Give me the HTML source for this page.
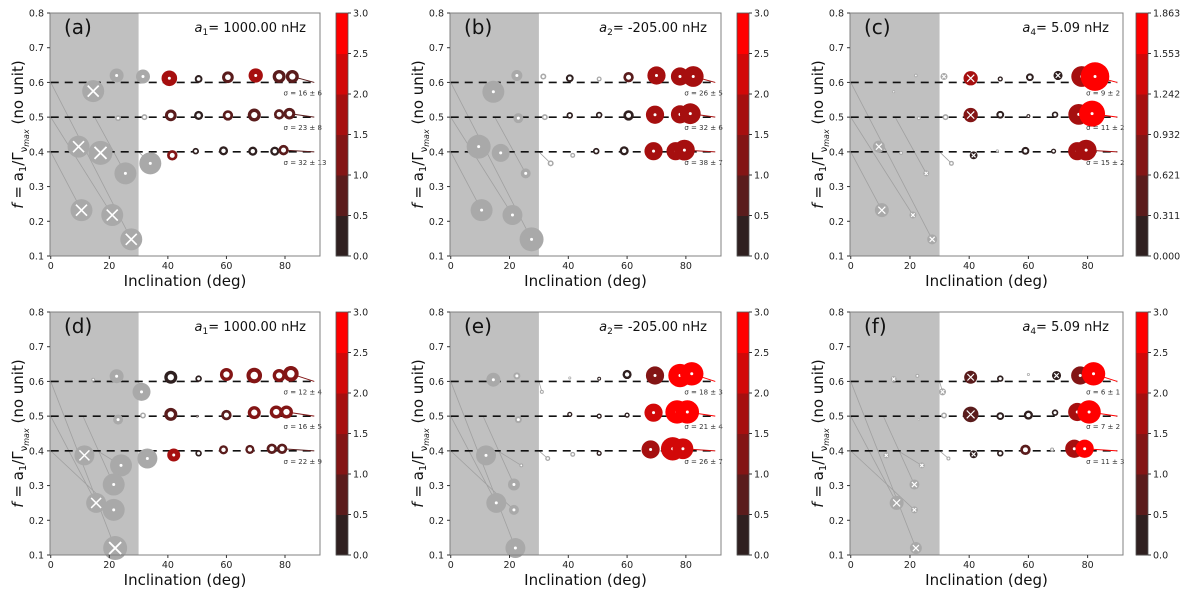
<!DOCTYPE html>
<html><head><meta charset="utf-8"><style>
body{margin:0;background:#fff}
svg{display:block;font-family:"DejaVu Sans","Liberation Sans",sans-serif}
</style></head><body>
<svg id="fig" width="1200" height="597" viewBox="0 0 1200 597" xmlns="http://www.w3.org/2000/svg"></svg>
<script>
// ---- data ----
const panelLabels = ["(a)","(b)","(c)","(d)","(e)","(f)"];
const annotNames = ["a","a","a","a","a","a"];
const annotSubs = ["1","2","4","1","2","4"];
const annotValues = ["= 1000.00 nHz","= -205.00 nHz","= 5.09 nHz","= 1000.00 nHz","= -205.00 nHz","= 5.09 nHz"];
const colorbarMax = [3,3,1.863,3,3,3];
const colorbarTicksStd = ["0.0","0.5","1.0","1.5","2.0","2.5","3.0"];
const colorbarTicksC = ["0.000","0.311","0.621","0.932","1.242","1.553","1.863"];
const xTicks = [0,20,40,60,80];
const yTicks = [0.1,0.2,0.3,0.4,0.5,0.6,0.7,0.8];
const levels = [0.6,0.5,0.4];
const sigmaLabels = [
 ["16 ± 6","23 ± 8","32 ± 13"],["26 ± 5","32 ± 6","38 ± 7"],["9 ± 2","11 ± 2","15 ± 2"],
 ["12 ± 4","16 ± 5","22 ± 9"],["18 ± 3","21 ± 4","26 ± 7"],["6 ± 1","7 ± 2","11 ± 3"]];
// gray points: [inc, f, size, type]  (type: d=dot, x=cross, r=ring)
const grayPts = [
 [[22.5,.62,7,'d'],[31.5,.617,7,'d'],[14.5,.575,11,'x'],[23,.497,3,'d'],[32,.5,3,'r'],[9.5,.415,11,'x'],[17,.397,12,'x'],[25.5,.338,11,'d'],[34,.367,11,'d'],[10.5,.232,11,'x'],[21,.218,11,'x'],[27.5,.148,11,'x']],
 [[22.5,.62,5.5,'d'],[14.5,.573,11,'d'],[23,.497,5,'d'],[9.5,.415,12,'d'],[17,.397,9,'d'],[25.5,.338,5,'d'],[10.5,.232,11,'d'],[21,.218,10,'d'],[27.5,.148,12,'d'],[31.5,.617,3,'r'],[32,.5,3,'r'],[34,.367,3,'r'],[41.5,.39,2.5,'r'],[50.5,.61,2.5,'r']],
 [[22,.62,1.8,'r'],[14.5,.573,1.5,'r'],[31.5,.617,3.5,'x'],[23,.497,2,'r'],[32,.5,3,'r'],[9.5,.415,6,'x'],[17,.397,2,'r'],[25.5,.338,3,'x'],[34,.367,2.5,'r'],[10.5,.232,7,'x'],[21,.218,3.5,'x'],[27.5,.148,5,'x'],[49.5,.403,1.5,'r']],
 [[14.5,.605,2,'d'],[22.5,.615,7,'d'],[31,.57,9,'d'],[23,.49,5,'d'],[31.5,.502,3,'r'],[11.5,.387,10,'x'],[24,.358,11,'d'],[33,.378,10,'d'],[21.5,.303,11,'d'],[15.5,.25,10,'x'],[21.5,.23,11,'d'],[22,.12,12,'x']],
 [[14.5,.605,7,'d'],[22.5,.616,3.5,'d'],[31,.57,2,'r'],[23,.49,3.5,'d'],[12,.387,10,'d'],[24,.358,2,'d'],[33,.378,2.5,'r'],[21.5,.303,6,'d'],[15.5,.25,10,'d'],[21.5,.23,5,'d'],[22,.12,10,'d'],[41.5,.39,2.5,'r'],[40.5,.61,1.5,'r']],
 [[14.5,.607,3,'x'],[22.5,.616,2,'r'],[31,.57,3.5,'x'],[23,.49,1,'d'],[31.5,.502,3,'r'],[12,.387,3,'x'],[24,.358,3,'x'],[33,.378,2,'r'],[21.5,.303,5,'x'],[15.5,.25,7,'x'],[21.5,.23,3.5,'x'],[22,.12,6,'x'],[60,.62,1.5,'r'],[68,.404,2,'r']]
];
// colored points: [inc, f, size, colorValue, type]
const colPts = [
 [[40.5,.612,6,1.7,'d'],[50.5,.61,3,.3,'r'],[60.5,.615,4.5,.8,'r'],[70,.62,5.5,1.5,'d'],[78,.617,5,.7,'r'],[82.5,.617,5,.8,'r'],
  [41,.505,4.5,.5,'r'],[50.5,.505,3.5,.4,'r'],[60.5,.505,4,.7,'r'],[69.5,.506,5,.7,'r'],[78,.508,4,.5,'r'],[81.5,.51,4.5,.9,'r'],
  [41.5,.39,4,1,'r'],[49.5,.402,2.5,.3,'r'],[59,.403,3.5,.3,'r'],[69,.402,3.5,.3,'r'],[76.5,.402,3.5,.4,'r'],[79.5,.405,4,.8,'r']],
 [[40.5,.612,3,.3,'r'],[60.5,.615,4,.5,'r'],[70,.62,7,1.8,'d'],[78,.617,7,1.8,'d'],[82.5,.617,8,1.8,'d'],
  [40.5,.505,2.5,.2,'r'],[50.5,.506,2.5,.4,'r'],[60.5,.505,4,.4,'r'],[69.5,.507,7,1.8,'d'],[78,.508,7,1.8,'d'],[81.5,.51,8,1.8,'d'],
  [49.5,.402,2.5,.3,'r'],[59,.403,3.5,.2,'r'],[69,.402,7,1.8,'d'],[76.5,.402,7,1.8,'d'],[79.5,.405,8,1.8,'d']],
 [[40.5,.612,5.5,1.1,'x'],[50.5,.61,2,.1,'r'],[60.5,.615,3,.2,'r'],[70,.62,3.5,.2,'x'],[78,.617,8,1.2,'d'],[82.5,.617,11,1.86,'d'],
  [40.5,.506,5.5,.9,'x'],[50.5,.507,3,.3,'r'],[60,.503,1.5,.3,'r'],[69,.507,2.5,.3,'r'],[77,.508,8,1.2,'d'],[81.5,.51,10,1.86,'d'],
  [41.5,.39,3,.3,'x'],[59,.403,3,.3,'r'],[68.5,.402,2,.2,'r'],[76.5,.402,7,1.1,'d'],[79.5,.405,8,1.2,'d']],
 [[41,.612,5,.4,'r'],[50.5,.608,2.5,.2,'r'],[60,.62,5,1.4,'r'],[69.5,.617,6,1.3,'r'],[78,.617,5,1.1,'r'],[82,.622,6,1.3,'r'],
  [41,.505,5,.6,'r'],[50,.5,1,.3,'r'],[60,.503,4,.6,'r'],[69.5,.51,5,1.2,'r'],[77,.512,5,1.1,'r'],[80.5,.512,5,1.2,'r'],
  [42,.388,5,1.6,'d'],[50.5,.393,2.5,.2,'r'],[59,.403,3.5,.5,'r'],[68,.404,3.5,.6,'r'],[75.5,.406,4,.8,'r'],[79,.406,4,.6,'r']],
 [[50.5,.608,1.5,.2,'r'],[60,.62,3.5,.2,'r'],[69.5,.617,7,1.3,'d'],[78,.617,9,2.7,'d'],[82,.622,9,2.9,'d'],
  [40.5,.505,2,.3,'r'],[50.5,.5,2,.3,'r'],[60,.503,2,.3,'r'],[69,.51,7,2.2,'d'],[77,.512,9,2.7,'d'],[80.5,.512,9,2.9,'d'],
  [50.5,.393,2,.3,'r'],[68,.404,7,1.6,'d'],[75.5,.406,9,2.2,'d'],[79,.406,8,2.2,'d']],
 [[40.5,.612,5,.8,'x'],[50.5,.608,2.5,.2,'r'],[69.5,.617,3.5,.2,'x'],[77.5,.617,7,1.2,'d'],[82,.622,9,2.9,'d'],
  [40.5,.505,6,.8,'x'],[50.5,.5,3,.3,'r'],[60,.503,3.5,.3,'r'],[69,.51,2.5,.3,'r'],[76.5,.512,7,1.6,'d'],[80.5,.512,9,2.9,'d'],
  [41.5,.39,3,.3,'x'],[50.5,.393,2.5,.3,'r'],[59,.403,4,.6,'r'],[75.5,.406,7,1.9,'d'],[79,.406,7,2.5,'d']]
];
// gray connector lines [x1,y1,x2,y2]
const topLines = [[0,.6,27.5,.148],[0,.5,21,.218],[0,.4,10.5,.232],[15,.5,25.5,.338],[30,.4,34,.367]];
const botLines = [[0,.6,22,.12],[0,.5,15.5,.25],[0,.4,21.5,.23],[11,.5,21.5,.303],[16,.4,24,.358],[30,.4,33,.378],[30,.6,31,.57]];
const cmapColors = ["#2f2020","#5a1c1c","#831515","#a60f0f","#d20808","#ff0000"];

// ---- layout ----
const NS="http://www.w3.org/2000/svg";
const svg=document.getElementById('fig');
function mk(tag,attrs,parent,text){const e=document.createElementNS(NS,tag);for(const k in attrs)e.setAttribute(k,attrs[k]);if(text!==undefined)e.textContent=text;(parent||svg).appendChild(e);return e;}
const axL=[50,450,850], axW=[270,271,273], axT=[13,312], axH=243, cbL=[336,737,1136];
function colorFor(v,vmax){let i=Math.floor(v/vmax*6);if(i>5)i=5;if(i<0)i=0;return cmapColors[i];}

for(let p=0;p<6;p++){
  const col=p%3,row=Math.floor(p/3);
  const L=axL[col],W=axW[col],T=axT[row],B=T+axH;
  const xs=v=>L+(v+0.25)/92.2*W;
  const ys=v=>B-(v-0.1)/0.7*axH;
  const g=mk('g',{},svg);
  
  
  const sh=mk('rect',{x:L,y:T,width:xs(30)-L,height:axH,fill:'#c0c0c0'},g);
  
  (row===0?topLines:botLines).forEach(l=>{mk('line',{x1:xs(l[0]),y1:ys(l[1]),x2:xs(l[2]),y2:ys(l[3]),stroke:'#a0a0a0','stroke-width':0.8},g);});
  levels.forEach(lv=>{const d=mk('line',{x1:xs(0),y1:ys(lv),x2:xs(90),y2:ys(lv),stroke:'#111','stroke-width':1.6,'stroke-dasharray':'8,6'},g);
    });
  levels.forEach(lv=>{const pts=colPts[p].filter(q=>Math.abs(q[1]-lv)<0.05);const q=pts[pts.length-1];
    if(q)mk('line',{x1:xs(q[0]),y1:ys(q[1]),x2:xs(90),y2:ys(lv),stroke:colorFor(q[3],colorbarMax[p]),'stroke-width':1},g);});
  function marker(q,fill,type,name,scale){
    const cx=xs(q[0]),cy=ys(q[1]),r=q[2]*scale;
    const c=mk('circle',{cx:cx,cy:cy,r:r,fill:fill},g);
    
    if(type==='r')mk('circle',{cx:cx,cy:cy,r:r*0.48,fill:'#fff'},g);
    else if(type==='d')mk('circle',{cx:cx,cy:cy,r:Math.min(1.5,r*0.45),fill:'#fff'},g);
    else{const a=r*0.5;mk('path',{d:`M${cx-a},${cy-a}L${cx+a},${cy+a}M${cx-a},${cy+a}L${cx+a},${cy-a}`,stroke:'#fff','stroke-width':Math.max(1.2,r*0.15)},g);}
  }
  grayPts[p].forEach(q=>marker(q,'#a9a9a9',q[3],'excluded-point',1));
  colPts[p].forEach(q=>marker(q,colorFor(q[3],colorbarMax[p]),q[4],'data-point',1.3));
  levels.forEach((lv,i)=>{const t=mk('text',{x:xs(79.5),y:ys(lv)+13,'font-size':7,fill:'#333'},g,'σ = '+sigmaLabels[p][i]);
    });
  mk('rect',{x:L,y:T,width:W,height:axH,fill:'none',stroke:'#808080','stroke-width':1},g);
  xTicks.forEach(v=>{mk('line',{x1:xs(v),y1:B,x2:xs(v),y2:B+3,stroke:'#333'},g);
    const t=mk('text',{x:xs(v),y:B+13,'font-size':9.5,'text-anchor':'middle',fill:'#222'},g,String(v));
    });
  yTicks.forEach(v=>{mk('line',{x1:L-3,y1:ys(v),x2:L,y2:ys(v),stroke:'#333'},g);
    const t=mk('text',{x:L-6,y:ys(v)+3.5,'font-size':9.5,'text-anchor':'end',fill:'#222'},g,v.toFixed(1));
    });
  const xl=mk('text',{x:L+W/2,y:B+30,'font-size':15,'text-anchor':'middle',fill:'#111'},g,'Inclination (deg)');
  
  const yl=mk('text',{x:0,y:0,'font-size':15,'text-anchor':'middle',fill:'#111',transform:`translate(${L-27},${T+axH/2}) rotate(-90)`},g);
  
  yl.innerHTML='<tspan font-style="italic">f</tspan> = a<tspan font-size="10" dy="3">1</tspan><tspan dy="-3">/Γ</tspan><tspan font-size="10" dy="4">ν</tspan><tspan font-size="8" font-style="italic" dy="2">max</tspan><tspan dy="-6"> (no unit)</tspan>';
  const pl=mk('text',{x:L+14,y:T+21,'font-size':20,fill:'#111'},g,panelLabels[p]);
  
  const an=mk('text',{x:L+W-14,y:T+19,'font-size':13,'text-anchor':'end',fill:'#111'},g);
  
  an.innerHTML=`<tspan font-style="italic">${annotNames[p]}</tspan><tspan font-size="9" dy="3">${annotSubs[p]}</tspan><tspan dy="-3">${annotValues[p]}</tspan>`;
  const cb=mk('g',{},svg);
  
  const cx0=cbL[col],cw=12,bh=axH/6;
  cmapColors.forEach((c,i)=>mk('rect',{x:cx0,y:B-(i+1)*bh,width:cw,height:bh+0.5,fill:c},cb));
  mk('rect',{x:cx0,y:T,width:cw,height:axH,fill:'none',stroke:'#555','stroke-width':0.8},cb);
  const labs=colorbarMax[p]===3?colorbarTicksStd:colorbarTicksC;
  labs.forEach((s,i)=>{const y=B-i*bh;mk('line',{x1:cx0+cw,y1:y,x2:cx0+cw+3,y2:y,stroke:'#333'},cb);
    const t=mk('text',{x:cx0+cw+5,y:y+3.5,'font-size':9.5,fill:'#222'},cb,s);
    });
}
</script>
</body></html>
